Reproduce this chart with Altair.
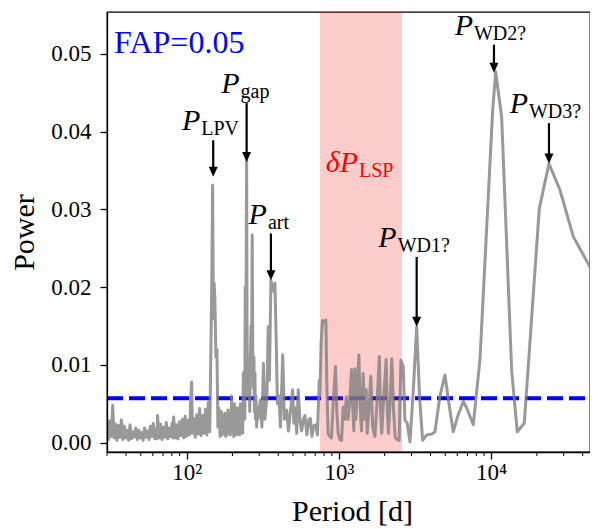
import altair as alt
import pandas as pd

# ---------------- data ----------------
period = [
    30.0, 30.7, 31.3, 32.0, 32.7, 33.4, 34.2, 34.9, 35.7, 36.5, 37.3, 38.1, 39.0, 39.8,
    40.7, 41.6, 42.5, 43.5, 44.4, 45.4, 46.4, 47.5, 48.5, 49.6, 50.7, 51.8, 53.0, 54.1,
    55.3, 56.6, 57.8, 59.1, 60.4, 61.8, 63.1, 63.8, 64.5, 66.0, 67.4, 68.9, 70.5, 72.0,
    73.6, 75.3, 76.9, 78.6, 80.4, 81.3, 82.2, 84.0, 85.8, 87.7, 89.7, 91.7, 93.7, 95.8,
    97.9, 100.0, 102.3, 104.5, 106.8, 108.0, 109.2, 111.6, 114.1, 116.6, 119.2, 121.8,
    124.5, 127.3, 130.1, 133.0, 135.9, 138.9, 142.0,
    144.4, 146.6, 148.2, 150.0, 151.6, 153.4, 155.8, 158.2,
    160.5, 163.0, 166.0, 169.3, 171.0, 173.2, 175.8, 178.5, 180.5, 182.6, 184.5, 186.8,
    189.0, 191.0, 194.0, 197.6, 199.5, 201.5, 204.0, 206.1, 208.5, 210.8, 213.0, 215.7,
    218.0, 220.6, 223.0, 225.7, 228.0, 230.9, 233.5,
    236.2, 238.0, 239.8, 241.2, 242.8, 244.5, 246.0, 247.9, 249.5, 251.0, 253.0, 255.0,
    257.5, 260.0, 262.5, 265.0, 267.5, 269.8, 272.0, 274.8, 277.0, 279.0, 281.0, 283.2,
    285.5, 288.4, 291.0,
    294.0, 305.4, 312.4, 319.6, 327.0, 337.0, 343.6, 349.9, 358.0, 369.0, 380.4, 389.0,
    395.0, 404.0, 413.4, 428.0, 439.0, 454.0, 466.6, 480.8, 497.0, 507.0, 518.6, 528.9,
    541.0, 555.0, 569.6, 585.4, 598.8, 617.0, 636.0, 650.7, 665.7, 686.0, 707.0, 723.5,
    743.4,
    750.0, 766.0, 781.0, 801.0, 822.0, 837.0, 850.0, 872.0, 894.0, 918.0, 951.0, 970.0,
    990.0, 1016.0, 1042.0, 1068.0, 1095.0, 1120.0, 1150.0, 1176.0, 1212.0, 1237.0,
    1255.0, 1274.0, 1295.0, 1354.0, 1385.0, 1410.0, 1445.0, 1483.0, 1513.0, 1535.0,
    1575.0, 1622.0, 1670.0, 1727.0, 1780.0, 1845.0, 1880.0, 1914.0, 1960.0, 2045.0,
    2084.0, 2117.0, 2170.0, 2228.0, 2290.0, 2344.0, 2415.0, 2490.0, 2556.0,
    2650.0, 2719.0, 2814.0, 2932.0, 3090.0, 3246.0, 3390.0, 3553.0, 3775.0, 4071.0,
    4280.0, 4616.0, 4979.0, 5290.0, 5646.0, 6060.0, 6569.0, 6910.0, 7641.0, 8455.0,
    10245.0, 10720.0, 11739.0, 13655.0, 14864.0, 16526.0, 20740.0, 24010.0, 28360.0,
    34690.0, 44650.0, 50400.0,
]
power = [
    0.0030, 0.0004, 0.0028, 0.0008, 0.0048, 0.0006, 0.0024, 0.0003, 0.0022, 0.0007, 0.0029, 0.0004, 0.0021, 0.0006,
    0.0016, 0.0003, 0.0023, 0.0005, 0.0014, 0.0007, 0.0019, 0.0004, 0.0016, 0.0006, 0.0013, 0.0003, 0.0019, 0.0007,
    0.0015, 0.0004, 0.0021, 0.0008, 0.0025, 0.0005, 0.0018, 0.0005, 0.0035, 0.0006, 0.0024, 0.0004, 0.0020, 0.0007,
    0.0026, 0.0005, 0.0019, 0.0008, 0.0025, 0.0006, 0.0033, 0.0006, 0.0023, 0.0005, 0.0027, 0.0009, 0.0030, 0.0006,
    0.0034, 0.0008, 0.0029, 0.0010, 0.0062, 0.0078, 0.0012, 0.0031, 0.0007, 0.0036, 0.0011, 0.0044,
    0.0009, 0.0035, 0.0012, 0.0043, 0.0010, 0.0052, 0.0014,
    0.0120, 0.0220, 0.0331, 0.0160, 0.0205, 0.0186, 0.0110, 0.0120,
    0.0020, 0.0045, 0.0008, 0.0040, 0.0010, 0.0035, 0.0012, 0.0038, 0.0008, 0.0030, 0.0010, 0.0042,
    0.0012, 0.0030, 0.0010, 0.0060, 0.0015, 0.0035, 0.0008, 0.0050, 0.0012, 0.0030, 0.0010, 0.0045,
    0.0015, 0.0035, 0.0010, 0.0050, 0.0015, 0.0040, 0.0012,
    0.0090, 0.0035, 0.0085, 0.0030, 0.0200, 0.0120, 0.0200, 0.0364, 0.0150, 0.0060, 0.0110, 0.0060,
    0.0100, 0.0040, 0.0110, 0.0150, 0.0120, 0.0267, 0.0120, 0.0070, 0.0110, 0.0040, 0.0090, 0.0030,
    0.0060, 0.0020, 0.0045,
    0.0030, 0.0055, 0.0020, 0.0102, 0.0030, 0.0060, 0.0149, 0.0080, 0.0209, 0.0195, 0.0205, 0.0120,
    0.0050, 0.0060, 0.0020, 0.0113, 0.0030, 0.0042, 0.0015, 0.0040, 0.0068, 0.0025, 0.0045, 0.0012,
    0.0068, 0.0030, 0.0015, 0.0030, 0.0035, 0.0010, 0.0030, 0.0031, 0.0008, 0.0022, 0.0023, 0.0010,
    0.0080,
    0.0060, 0.0130, 0.0157, 0.0155, 0.0158, 0.0060, 0.0012, 0.0008, 0.0006, 0.0050, 0.0098, 0.0040,
    0.0012, 0.0004, 0.0003, 0.0046, 0.0030, 0.0059, 0.0030, 0.0050, 0.0094, 0.0040,
    0.0015, 0.0095, 0.0030, 0.0113, 0.0040, 0.0015, 0.0089, 0.0030, 0.0068, 0.0012,
    0.0040, 0.0085, 0.0020, 0.0008, 0.0050, 0.0111, 0.0040, 0.0012, 0.0050, 0.0107,
    0.0040, 0.0012, 0.0050, 0.0108, 0.0040, 0.0007, 0.0004, 0.0003, 0.0106,
    0.0098, 0.0029, 0.0025, 0.0001, 0.0070, 0.0149, 0.0060, 0.0003, 0.0010, 0.0011,
    0.0014, 0.0060, 0.0087, 0.0050, 0.0014, 0.0035, 0.0053, 0.0045, 0.0023, 0.0107,
    0.0427, 0.0477, 0.0419, 0.0093, 0.0014, 0.0025, 0.0301, 0.0359, 0.0325,
    0.0265, 0.0226, 0.0215,
]

fap_level = 0.0057
fap_text = "FAP=0.05"
lsp_range = [750, 2600]

ann_label = ["LPV", "gap", "art", "WD1?", "WD2?", "WD3?"]
ann_period = [149.6, 247.9, 358.0, 3246.0, 10450.0, 24010.0]
ann_tail = [0.0389, 0.0437, 0.0269, 0.0239, 0.0512, 0.0411]
ann_tip = [0.0342, 0.0361, 0.0209, 0.0149, 0.0476, 0.0359]

x_major = [100, 1000, 10000]
x_minor = [30, 40, 50, 60, 70, 80, 90, 200, 300, 400, 500, 600, 700, 800, 900,
           2000, 3000, 4000, 5000, 6000, 7000, 8000, 9000, 20000, 30000, 40000]
y_ticks = [0.0, 0.01, 0.02, 0.03, 0.04, 0.05]

# ---------------- styling ----------------
W, H = 483, 440
FONT = "Liberation Serif, serif"
label_dx = {"LPV": -13, "gap": -7, "art": -4, "WD1?": -20, "WD2?": -21, "WD3?": -21}

xscale = alt.Scale(type="log", domain=[30, 44660], nice=False)
yscale = alt.Scale(domain=[-0.0012, 0.0554], nice=False, zero=False)

xaxis = alt.Axis(
    values=x_major, title="Period [d]",
    labelExpr="datum.value == 100 ? '10²' : datum.value == 1000 ? '10³' : '10⁴'",
    tickSize=7, tickWidth=1.3, tickColor="black", domain=True, domainColor="black",
    domainWidth=1.3, grid=False, labelFont=FONT, labelFontSize=23, labelColor="black",
    labelPadding=2, titleFont=FONT, titleFontSize=30, titleFontWeight="normal",
    titleColor="black", titleX=245, titleY=68, titleBaseline="alphabetic",
    titleAlign="center", zindex=1,
)
yaxis = alt.Axis(
    values=y_ticks, format=".2f", title="Power",
    tickSize=7, tickWidth=1.3, tickColor="black", domain=True, domainColor="black",
    domainWidth=1.3, grid=False, labelFont=FONT, labelFontSize=23, labelColor="black",
    labelPadding=9, titleFont=FONT, titleFontSize=30, titleFontWeight="normal",
    titleColor="black", titleAngle=270, titleX=-74, titleY=H / 2,
    titleBaseline="alphabetic", titleAlign="center", zindex=1,
)

df = pd.DataFrame({"period": period, "power": power})
ann = pd.DataFrame({"label": ann_label, "period": ann_period, "tail": ann_tail, "tip": ann_tip})

X = lambda f: alt.X(f, scale=xscale, axis=xaxis)
Y = lambda f: alt.Y(f, scale=yscale, axis=yaxis)

fap_rule = alt.Chart(pd.DataFrame({"y": [fap_level]})).mark_rule(
    color="#0000ff", strokeWidth=4, strokeDash=[16, 6]
).encode(y=Y("y:Q"), x=alt.value(0), x2=alt.value(W))

lsp_rect = alt.Chart(pd.DataFrame({"lo": [lsp_range[0]], "hi": [lsp_range[1]]})).mark_rect(
    color="#ff0000", opacity=0.2
).encode(x=X("lo:Q"), x2="hi:Q", y=alt.value(0), y2=alt.value(H))

line = alt.Chart(df).mark_line(
    color="#808080", opacity=0.8, strokeWidth=3, clip=True, strokeJoin="round"
).encode(x=X("period:Q"), y=Y("power:Q"))

minor = alt.Chart(pd.DataFrame({"t": x_minor})).mark_rule(
    color="black", strokeWidth=1
).encode(x=X("t:Q"), y=alt.value(H), y2=alt.value(H + 4))

shaft = alt.Chart(ann).transform_calculate(end="datum.tip + 0.0008").mark_rule(
    color="black", strokeWidth=2.2
).encode(x=X("period:Q"), y=Y("tail:Q"), y2="end:Q")

head = alt.Chart(ann).mark_point(
    shape="M-0.9,-2L0.9,-2L0,0Z", size=100, filled=True, color="black", opacity=1, strokeWidth=0
).encode(x=X("period:Q"), y=Y("tip:Q"))

layers = [fap_rule, lsp_rect, line, minor, shaft, head]

for lab in ann_label:
    base = alt.Chart(ann).transform_filter(alt.datum.label == lab)
    p = base.transform_calculate(t="'P'").mark_text(
        font=FONT, fontStyle="italic", fontSize=30, align="right", baseline="alphabetic",
        dx=label_dx[lab], dy=-10, color="black"
    ).encode(x=X("period:Q"), y=Y("tail:Q"), text="t:N")
    s = base.mark_text(
        font=FONT, fontSize=20, align="left", baseline="alphabetic",
        dx=label_dx[lab] + 1, dy=-5, color="black"
    ).encode(x=X("period:Q"), y=Y("tail:Q"), text="label:N")
    layers += [p, s]

fap_label = alt.Chart(pd.DataFrame({"t": [fap_text]})).mark_text(
    font=FONT, fontSize=32, color="#0000ff", align="left", baseline="alphabetic"
).encode(text="t:N", x=alt.value(7), y=alt.value(41))

lsp_p = alt.Chart(pd.DataFrame({"t": ["δP"]})).mark_text(
    font=FONT, fontSize=30, fontStyle="italic", color="#ff0000", align="right", baseline="alphabetic"
).encode(text="t:N", x=alt.value(251), y=alt.value(160))
lsp_s = alt.Chart(pd.DataFrame({"t": ["LSP"]})).mark_text(
    font=FONT, fontSize=20, color="#ff0000", align="left", baseline="alphabetic"
).encode(text="t:N", x=alt.value(252), y=alt.value(165))

layers += [fap_label, lsp_p, lsp_s]

chart = alt.layer(*layers).properties(
    width=W, height=H,
    autosize=alt.AutoSizeParams(type="none"),
    padding={"left": 99, "top": 4, "right": 0, "bottom": 76},
).configure_view(stroke="black", strokeWidth=1.3)

chart.save("out.html", embed_options={"renderer": "svg", "actions": False})
